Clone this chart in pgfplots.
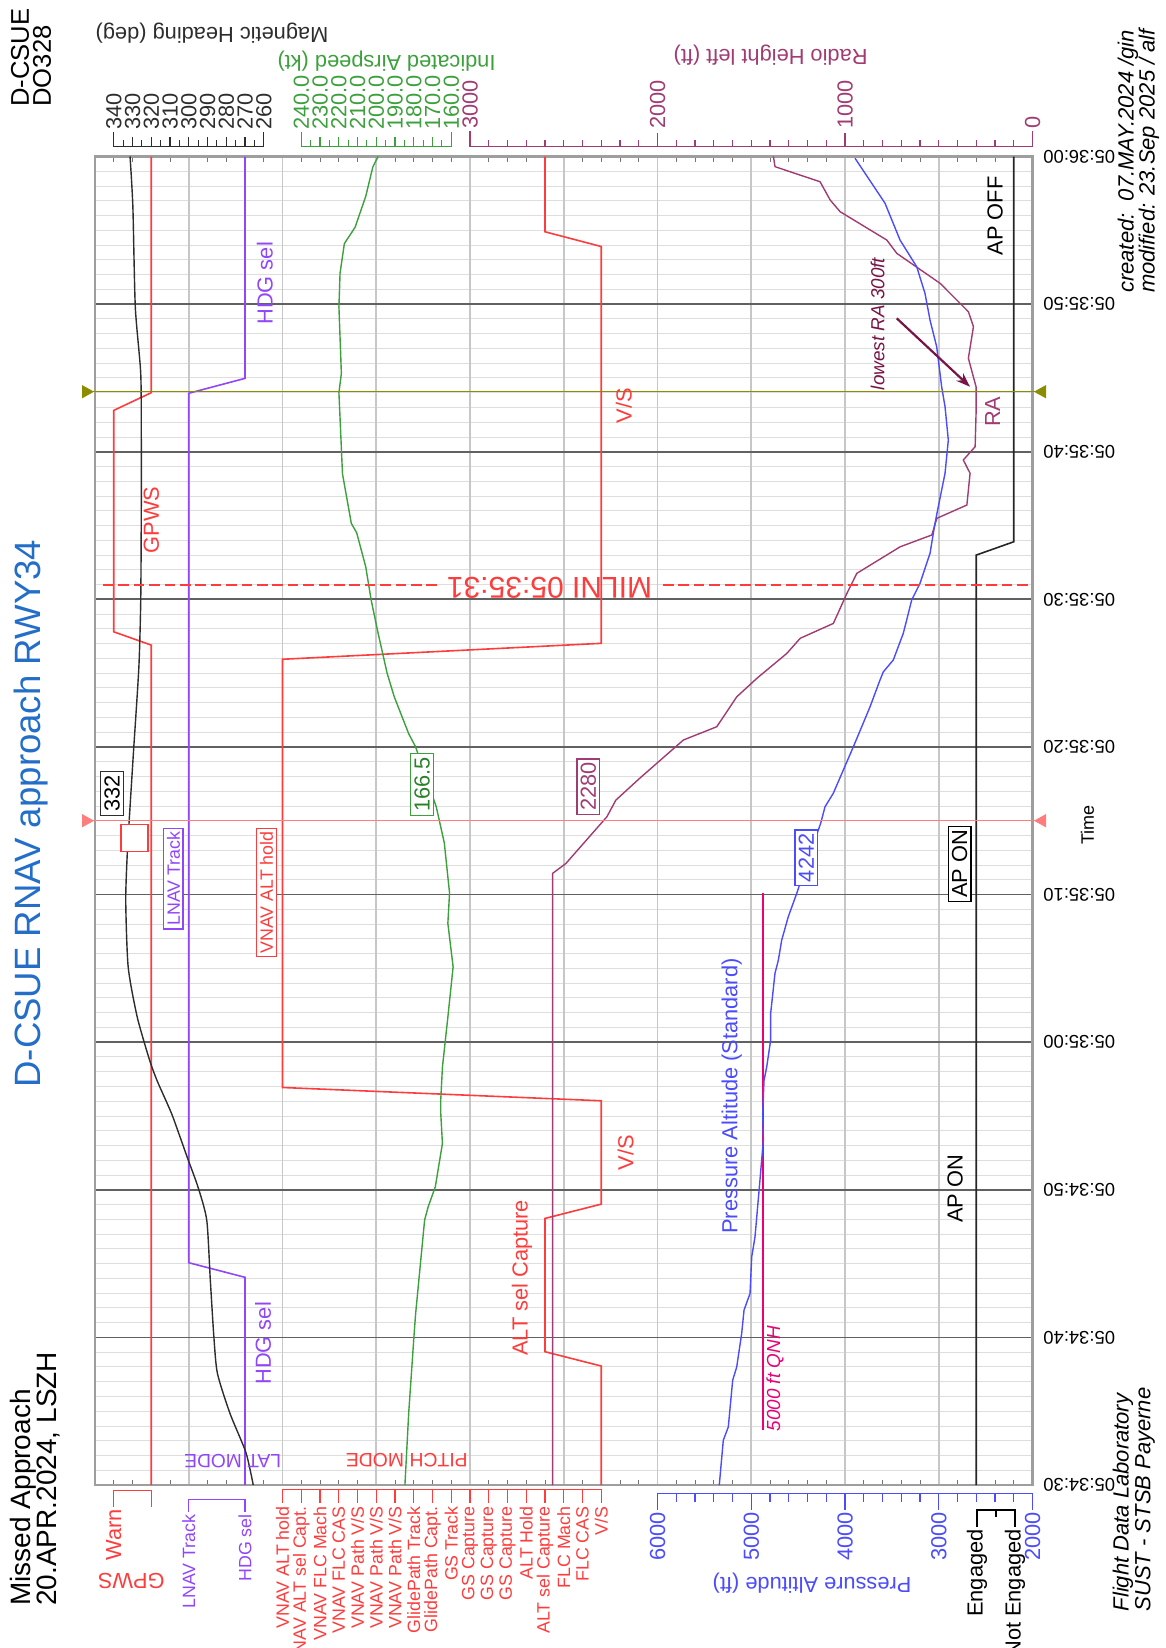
\documentclass[border=0pt]{standalone}
\usepackage{pgfplots}
\pgfplotsset{compat=1.18}
\usepackage{pgfplotstable}
\usetikzlibrary{arrows.meta}
\usepackage{fontspec}
\setmainfont{Liberation Sans}

\definecolor{cRed}{RGB}{255,60,60}
\definecolor{cPur}{RGB}{145,70,250}
\definecolor{cHdg}{RGB}{45,45,45}
\definecolor{cGrn}{RGB}{60,160,60}
\definecolor{cGrnT}{RGB}{40,130,40}
\definecolor{cRA}{RGB}{160,60,115}
\definecolor{cBlu}{RGB}{75,75,255}
\definecolor{cQNH}{RGB}{235,0,120}
\definecolor{cOli}{RGB}{140,140,0}
\definecolor{cCur}{RGB}{255,125,125}
\definecolor{cTitle}{RGB}{35,110,200}
\definecolor{cArr}{RGB}{120,20,70}

\newcommand\fs[1]{\fontsize{#1pt}{#1pt}\selectfont}

% time t in seconds after 05:34:30
\pgfplotstableread{
t h
0 265.6
2.2 269.5
4.85 278.0
7.56 284.7
10.04 286.6
13.9 288.5
17.95 290.4
20.2 295.1
22.24 300.9
24.95 308.5
26.08 312.3
27.43 317.0
28.79 320.9
31.72 327.5
35.1 332.3
39.6 333.6
43.0 332.7
45.95 331.3
49.8 329.4
55.4 326.6
59.95 325.6
66.3 325.3
70.8 325.3
75.3 325.6
79.8 328.5
86.6 329.8
90 331.3
}\hdgtab

\pgfplotstableread{
t v
0 184.7
4.85 182.7
10.04 179.9
11.6 179.0
17.95 174.2
18.85 172.3
20.2 168.5
23.14 164.7
25.2 165.6
26.08 165.6
28.3 164.7
31.7 161.8
35.1 159.0
38.05 161.8
40.1 160.9
43.5 163.7
45.95 168.0
50.0 179.0
50.9 182.7
53.4 190.4
55.0 194.2
57.7 199.0
59.95 202.7
62.2 205.6
64.5 210.4
65.15 213.3
68.5 218.0
74.0 219.9
75.3 218.6
79.8 219.9
82.1 219.3
84.1 217.0
85.2 211.3
87.3 205.6
89.3 201.8
90 199.0
}\iastab

\pgfplotstableread{
t ra
0 2559
41.44 2559
42.1 2489
45.27 2270
46.4 2222
47.9 2093
48.3 2057
50.47 1862
51.37 1684
53.4 1577
54.65 1470
56.34 1310
57.36 1239
58.37 1062
60.4 990
61.76 937
63.56 706
64.36 537
65.49 510
66.39 350
68.54 333
69.44 369
70.34 306
72.6 301
74.4 301
76.33 342
78.47 315
79.49 342
81.41 493
83.44 724
84.34 777
86.26 1026
87.05 1079
88.29 1133
89.31 1373
90 1382
}\ratab

\pgfplotstableread{
t alt
0 5341
3.04 5298
3.93 5245
7.1 5198
8.0 5155
10.27 5102
11.85 5077
12.98 5013
15.46 4995
16.81 4960
20.66 4907
23.37 4871
25.18 4878
27.4 4864
28.33 4835
30.14 4793
31.95 4793
34.66 4747
35.56 4711
36.92 4675
38.5 4605
40.08 4515
42.11 4409
44.82 4260
45.95 4213
46.86 4125
50.01 3911
52.72 3733
54.53 3627
55.09 3591
55.89 3485
57.7 3378
59.95 3289
61.08 3200
63.12 3093
65.15 3040
66.27 3005
68.54 2933
70.79 2898
73.05 2933
74.4 2969
77.11 3022
78.92 3093
80.73 3147
82.53 3235
84.34 3413
86.83 3573
89.88 3893
}\alttab

\pgfplotsset{ovl/.style={at={(47.5pt,-742.5pt)}, anchor=south west,
  width=468.75pt, height=664.25pt, scale only axis, ymin=0, ymax=90}}

\begin{document}
\begin{tikzpicture}
\useasboundingbox (0,0) rectangle (583pt,-824pt);
% ---------- grid ----------
\begin{scope}[x=0.5pt,y=-0.5pt]
 \foreach \i in {0,...,90} \draw[black!13, line width=0.45pt] (95,{1485-14.761*\i}) -- (1032.5,{1485-14.761*\i});
 \foreach \j in {1,...,9} \draw[black!22, line width=0.8pt] ({95+93.75*\j},156.5) -- ({95+93.75*\j},1485);
 \foreach \i in {10,20,...,80} \draw[black!62, line width=0.9pt] (95,{1485-14.761*\i}) -- (1032.5,{1485-14.761*\i});
\end{scope}

% ---------- discrete mode axis (units of 1/5 grid) ----------
\begin{axis}[ovl, xmin=0, xmax=50, xtick={0,5,...,50}, minor x tick num=4,
  ytick=\empty, xticklabels={}, major tick length=0pt, minor tick length=2.6pt,
  tick align=inside, axis line style={draw=black!38, line width=1.2pt},
  tick style={black!55, line width=0.5pt}]
 % GPWS (1 = Warn, 3 = normal)
 \addplot[cRed, line width=0.8pt] coordinates {(3,0) (3,56.9) (1,57.8) (1,72.8) (3,74.0) (3,90)};
 % LAT MODE (5 = LNAV Track, 8 = HDG sel)
 \addplot[cPur, line width=0.8pt] coordinates {(8,0) (8,14.07) (5,15.06) (5,73.96) (8,74.97) (8,90)};
 % PITCH MODE (10 = VNAV ALT hold, 24 = ALT sel Capture, 27 = V/S)
 \addplot[cRed, line width=0.8pt] coordinates {(27,0) (27,8.06) (24,9.03) (24,18.06) (27,19.03) (27,26.03) (10,26.93) (10,55.94) (27,57.02) (27,83.9) (24,84.9) (24,90)};
 % AP (47 = Engaged, 49 = Not Engaged)
 \addplot[black!85, line width=0.8pt] coordinates {(47,0) (47,63.0) (49,63.9) (49,90)};
\end{axis}

% ---------- heading & airspeed ----------
\begin{axis}[ovl, hide axis, xmin=-150, xmax=350, x dir=reverse]
 \addplot[cHdg, line width=0.7pt, smooth, tension=0.4] table[x=h, y=t] {\hdgtab};
 \addplot[cGrn, line width=0.7pt] table[x=v, y=t] {\iastab};
\end{axis}

% ---------- radio height ----------
\begin{axis}[ovl, hide axis, xmin=0, xmax=5000, x dir=reverse]
 \addplot[cRA, line width=0.7pt] table[x=ra, y=t] {\ratab};
\end{axis}

% ---------- pressure altitude ----------
\begin{axis}[ovl, hide axis, xmin=2000, xmax=12000, x dir=reverse]
 \addplot[cQNH, line width=1.1pt] coordinates {(4871,3.7) (4871,40.08)};
 \addplot[cBlu, line width=0.7pt] table[x=alt, y=t] {\alttab};
\end{axis}

% ---------- annotations ----------
\begin{scope}[x=0.5pt,y=-0.5pt, every node/.style={inner sep=0pt, font=\fs{10.9}}]
 % cursor lines
 \draw[cOli, line width=0.7pt] (90,391.7) -- (1040,391.7);
 \fill[cOli] (82,385) -- (94,391.7) -- (82,398.4) -- cycle;
 \fill[cOli] (1046,385) -- (1034,391.7) -- (1046,398.4) -- cycle;
 \draw[cCur, line width=0.6pt] (90,820.7) -- (1040,820.7);
 \fill[cCur] (82,814) -- (94,820.7) -- (82,827.4) -- cycle;
 \fill[cCur] (1046,814) -- (1034,820.7) -- (1046,827.4) -- cycle;
 % MILNI
 \draw[cRed, line width=1pt, dash pattern=on 5.3pt off 2.4pt] (103,585) -- (440,585);
 \draw[cRed, line width=1pt, dash pattern=on 5.3pt off 2.4pt] (663,585) -- (1030,585);
 \node[rotate=180, text=cRed, font=\fs{15}] at (549.5,588) {MILNI 05:35:31};

 % value boxes at cursor
 \node[draw=cHdg, fill=white, line width=0.7pt, inner sep=1.9pt, rotate=90, text=black] at (112.2,793.3) {332};
 \node[draw=cRed, fill=white, line width=0.7pt, minimum width=13.4pt, minimum height=13.4pt] at (134.5,838) {};
 \node[draw=cPur, fill=white, line width=0.7pt, inner sep=1.6pt, rotate=90, text=cPur, font=\fs{8.9}] at (173.4,878.7) {LNAV Track};
 \node[draw=cRed, fill=white, line width=0.7pt, inner sep=1.6pt, rotate=90, text=cRed, font=\fs{8.9}] at (266.5,892.5) {VNAV ALT hold};
 \node[draw=cGrn, fill=white, line width=0.7pt, inner sep=1.8pt, rotate=90, text=cGrnT] at (422.1,784.5) {166.5};
 \node[draw=cRA, fill=white, line width=0.7pt, inner sep=1.8pt, rotate=90, text=cRA] at (588.4,786.7) {2280};
 \node[draw=cBlu, fill=white, line width=0.7pt, inner sep=1.8pt, rotate=90, text=cBlu] at (806.2,857.8) {4242};
 \node[draw=black, fill=white, line width=0.7pt, inner sep=1.8pt, rotate=90, text=black] at (959.7,864) {AP ON};

 % in-plot labels
 \node[rotate=90, text=cPur] at (264.8,283.3) {HDG sel};
 \node[rotate=90, text=cPur] at (263,1343.3) {HDG sel};
 \node[rotate=90, text=cRed] at (151.4,520) {GPWS};
 \node[rotate=90, text=cRed] at (623.8,405.8) {V/S};
 \node[rotate=90, text=cRed] at (625.5,1152.5) {V/S};
 \node[rotate=90, text=cRed] at (522,1278) {ALT sel Capture};
 \node[rotate=90, text=cBlu] at (731.7,1096) {Pressure Altitude (Standard)};
 \node[rotate=90, anchor=west, text=cQNH, font={\fs{9.45}\itshape}] at (775,1431.7) {5000 ft QNH};
 \node[rotate=90, text=cArr, font={\fs{9.45}\itshape}] at (877.5,324) {lowest RA 300ft};
 \draw[cArr, line width=1.1pt, -{Stealth[length=7pt,width=5pt]}] (896.7,318.3) -- (970,386.7);
 \node[rotate=90, text=cRA] at (992.5,411.7) {RA};
 \node[rotate=90] at (955,1189) {AP ON};
 \node[rotate=90] at (995,216) {AP OFF};
 \node[rotate=180, text=cPur, font=\fs{9.6}] at (232.7,1460.8) {LAT MODE};
 \node[rotate=180, text=cRed, font=\fs{9.7}] at (406.8,1460) {PITCH MODE};
 \node[rotate=90, font=\fs{9}] at (1087.5,825) {Time};

 % time labels
 \foreach \t/\lab in {0/05:34:30,10/05:34:40,20/05:34:50,30/05:35:00,40/05:35:10,50/05:35:20,60/05:35:30,70/05:35:40,80/05:35:50,90/05:36:00}
   \node[rotate=180, anchor=east, font=\fs{9.2}] at (1043,{1485-14.761*\t}) {\lab};

 % ---- top scales ----
 % heading
 \draw[cHdg, line width=0.6pt] (113.75,132) -- (113.75,146.7) -- (263.75,146.7) -- (263.75,132);
 \foreach \i in {1,...,15} {
   \pgfmathsetmacro\L{ifthenelse(mod(\i,2)==0,137,140.5)}
   \draw[cHdg, line width=0.6pt] ({113.75+9.375*\i},146.7) -- ({113.75+9.375*\i},\L);}
 \foreach \v [count=\c from 0] in {340,330,...,260}
   \node[rotate=90, anchor=west, text=cHdg] at ({113.75+18.75*\c},130) {\v};
 \node[rotate=180, text=cHdg] at (212,33) {Magnetic Heading (deg)};
 % airspeed
 \draw[cGrn, line width=0.6pt] (301.25,132) -- (301.25,146.7) -- (451.25,146.7) -- (451.25,132);
 \foreach \i in {1,...,15} {
   \pgfmathsetmacro\L{ifthenelse(mod(\i,2)==0,137,140.5)}
   \draw[cGrn, line width=0.6pt] ({301.25+9.375*\i},146.7) -- ({301.25+9.375*\i},\L);}
 \foreach \v [count=\c from 0] in {240.0,230.0,220.0,210.0,200.0,190.0,180.0,170.0,160.0}
   \node[rotate=90, anchor=west, text=cGrn] at ({301.25+18.75*\c},130) {\v};
 \node[rotate=180, text=cGrn] at (386.5,61) {Indicated Airspeed (kt)};
 % radio height
 \draw[cRA, line width=0.6pt] (470,131) -- (470,146.7) -- (1032.5,146.7) -- (1032.5,131);
 \foreach \i in {1,...,29} {
   \pgfmathsetmacro\L{ifthenelse(mod(\i,10)==0,133,140.5)}
   \draw[cRA, line width=0.6pt] ({470+18.75*\i},146.7) -- ({470+18.75*\i},\L);}
 \foreach \v/\x in {3000/470,2000/657.5,1000/845,0/1032.5}
   \node[rotate=90, anchor=west, text=cRA] at (\x,129) {\v};
 \node[rotate=180, text=cRA] at (770.6,55) {Radio Height left (ft)};

 % ---- bottom scales ----
 % GPWS
 \draw[cRed, line width=0.6pt] (113.75,1506.7) -- (113.75,1490.7) -- (151.25,1490.7) -- (151.25,1506.7);
 \node[rotate=90, anchor=east, text=cRed] at (113.75,1509) {Warn};
 \node[rotate=180, text=cRed] at (131.4,1581) {GPWS};
 % LAT MODE
 \draw[cPur, line width=0.6pt] (188.75,1511.7) -- (188.75,1499.3) -- (245,1499.3) -- (245,1511.7);
 \node[rotate=90, anchor=east, text=cPur, font=\fs{8.9}] at (188.75,1514) {LNAV Track};
 \node[rotate=90, anchor=east, text=cPur, font=\fs{8.9}] at (245,1514) {HDG sel};
 % PITCH MODE
 \draw[cRed, line width=0.6pt] (282.5,1489.3) -- (601.25,1489.3);
 \foreach \i in {0,...,17} \draw[cRed, line width=0.6pt] ({282.5+18.75*\i},1489.3) -- ({282.5+18.75*\i},1503);
 \foreach \lab [count=\i from 0] in {{VNAV ALT hold},{VNAV ALT sel Capt.},{VNAV FLC Mach},{VNAV FLC CAS},{VNAV Path V/S},{VNAV Path V/S},{VNAV Path V/S},{GlidePath Track},{GlidePath Capt.},{GS Track},{GS Capture},{GS Capture},{GS Capture},{ALT Hold},{ALT sel Capture},{FLC Mach},{FLC CAS},{V/S}}
   \node[rotate=90, anchor=east, text=cRed, font=\fs{8.9}] at ({282.5+18.75*\i},1506) {\lab};
 % pressure altitude
 \draw[cBlu, line width=0.6pt] (657.5,1493.3) -- (1032.5,1493.3);
 \foreach \i in {0,...,20} {
   \pgfmathsetmacro\L{ifthenelse(mod(\i,5)==0,1510,1501.5)}
   \draw[cBlu, line width=0.6pt] ({657.5+18.75*\i},1493.3) -- ({657.5+18.75*\i},\L);}
 \foreach \v/\x in {6000/657.5,5000/751.25,4000/845,3000/938.75,2000/1032.5}
   \node[rotate=90, anchor=east, text=cBlu] at (\x,1512) {\v};
 \node[rotate=180, text=cBlu] at (812,1583) {Pressure Altitude (ft)};
 % AP
 \draw[black, line width=0.6pt] (977,1527) -- (977,1510) -- (1015,1510) -- (1015,1527);
 \draw[black, line width=0.6pt] (996,1510) -- (996,1517);
 \node[rotate=90, anchor=east] at (977,1529) {Engaged};
 \node[rotate=90, anchor=east] at (1015,1529) {Not Engaged};

 % ---- titles ----
 \node[rotate=90, anchor=west, font=\fs{12.8}] at (20,107) {D-CSUE};
 \node[rotate=90, anchor=west, font=\fs{12.8}] at (42,107) {DO328};
 \node[rotate=90, anchor=west, text=cTitle, font=\fs{18.3}] at (31.5,1088) {D-CSUE RNAV approach RWY34};
 \node[rotate=90, anchor=west, font=\fs{14}] at (23.7,1606) {Missed Approach};
 \node[rotate=90, anchor=west, font=\fs{14}] at (49,1606) {20.APR.2024, LSZH};
 \node[rotate=90, anchor=west, font={\fs{11}\itshape}] at (1128,293.3) {created:\ \ 07.MAY.2024 /gin};
 \node[rotate=90, anchor=west, font={\fs{11}\itshape}] at (1149,293.3) {modified: 23.Sep 2025 / alf};
 \node[rotate=90, anchor=west, font={\fs{11}\itshape}] at (1123,1611.7) {Flight Data Laboratory};
 \node[rotate=90, anchor=west, font={\fs{11}\itshape}] at (1145,1611.7) {SUST - STSB Payerne};
\end{scope}
\end{tikzpicture}
\end{document}
